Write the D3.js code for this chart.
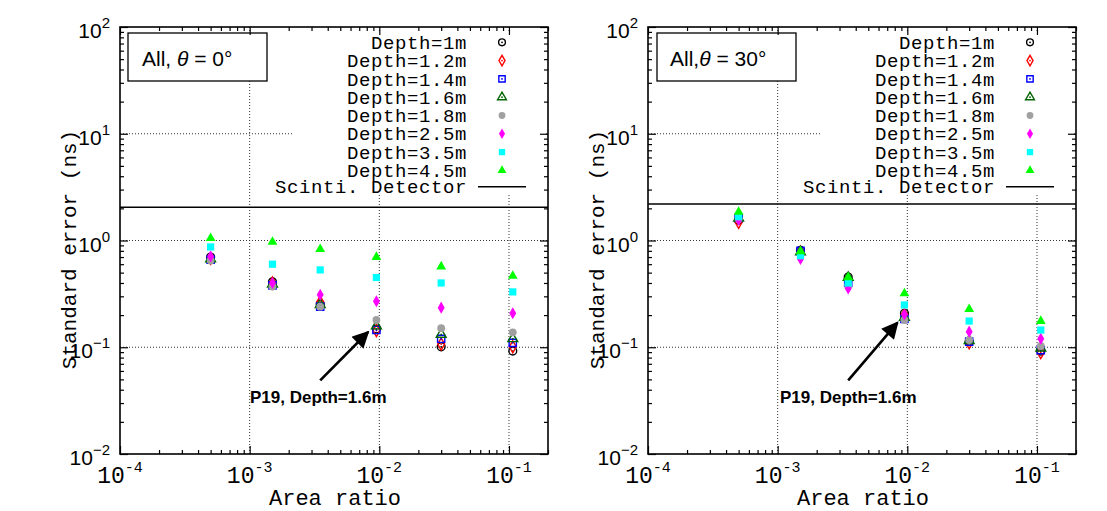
<!DOCTYPE html>
<html>
<head>
  <meta charset="UTF-8">
  <title></title>
  <style>
    body { margin: 0; background: #fff; }
    .mono { font-family: 'Liberation Mono', 'Courier New', monospace; }
    .sans { font-family: 'Liberation Sans', Helvetica, Arial, sans-serif; }
    .grid { stroke: #333; stroke-width: 1; stroke-dasharray: 1,2; }
  </style>
</head>
<body>
<div id="container"></div>
<script src="https://cdnjs.cloudflare.com/ajax/libs/d3/7.8.5/d3.min.js"></script>
<script>

// ---------------------------------------------------------------- data
var depths = ["1m", "1.2m", "1.4m", "1.6m", "1.8m", "2.5m", "3.5m", "4.5m"];
var areaRatio = [5e-4, 1.5e-3, 3.5e-3, 9.5e-3, 0.03, 0.107];

// standard error (ns), one row per depth, theta = 0
var errTheta0 = [
  [0.70, 0.41, 0.254, 0.148, 0.101, 0.092],
  [0.68, 0.40, 0.265, 0.143, 0.107, 0.101],
  [0.66, 0.38, 0.240, 0.145, 0.120, 0.110],
  [0.67, 0.39, 0.250, 0.158, 0.132, 0.120],
  [0.65, 0.37, 0.240, 0.180, 0.151, 0.138],
  [0.71, 0.40, 0.310, 0.270, 0.235, 0.208],
  [0.87, 0.60, 0.530, 0.450, 0.400, 0.330],
  [1.05, 0.97, 0.830, 0.700, 0.570, 0.465]
];
// theta = 30
var errTheta30 = [
  [1.55, 0.81, 0.455, 0.208, 0.113, 0.092],
  [1.48, 0.78, 0.420, 0.200, 0.110, 0.089],
  [1.63, 0.80, 0.400, 0.184, 0.113, 0.094],
  [1.62, 0.78, 0.450, 0.190, 0.115, 0.098],
  [1.60, 0.75, 0.380, 0.180, 0.117, 0.103],
  [1.56, 0.67, 0.356, 0.203, 0.140, 0.120],
  [1.67, 0.72, 0.400, 0.249, 0.176, 0.145],
  [1.85, 0.79, 0.450, 0.320, 0.227, 0.176]
];
var scintiLevel = [2.05, 2.2];
var xTicks = [-4, -3, -2, -1];
var yTicks = [-2, -1, 0, 1, 2];

// marker styles per depth
var markColor = ["#000000", "#ff0000", "#0000ff", "#006400", "#a0a0a0", "#ff00ff", "#00ffff", "#00ff00"];
var markShape = ["circle", "diamond", "square", "triangle", "circle", "diamond", "square", "triangle"];
var markOpen  = [true, true, true, true, false, false, false, false];

//////////////////////////////////////////////////////////////////////

var W = 1107, H = 511;
var pw = 428, ph = 427;

var svg = d3.select("#container").append("svg")
  .attr("width", W).attr("height", H);

var x = d3.scaleLog().domain([1e-4, 0.2]).range([0, pw]);
var y = d3.scaleLog().domain([1e-2, 1e2]).range([ph, 0]);

var symGen = {
  circle:   d3.symbol().type(d3.symbolCircle).size(48),
  diamond:  d3.symbol().type(d3.symbolDiamond).size(42),
  square:   d3.symbol().type(d3.symbolSquare).size(52),
  triangle: d3.symbol().type(d3.symbolTriangle).size(42)
};
var symGenSmall = {
  circle:   d3.symbol().type(d3.symbolCircle).size(36),
  diamond:  d3.symbol().type(d3.symbolDiamond).size(32),
  square:   d3.symbol().type(d3.symbolSquare).size(40),
  triangle: d3.symbol().type(d3.symbolTriangle).size(34)
};

function drawMark(g, i, cx, cy, gen) {
  var s = g.append("g").attr("transform", "translate(" + cx + "," + cy + ")");
  s.append("path")
    .attr("d", gen[markShape[i]]())
    .attr("fill", markOpen[i] ? "none" : markColor[i])
    .attr("stroke", markColor[i])
    .attr("stroke-width", markOpen[i] ? 1.4 : 0);
  if (markOpen[i]) {
    s.append("circle").attr("r", 0.9).attr("fill", markColor[i]);
  }
}

function panel(left, errs, scinti, titleParts, arrow, textX) {
  var g = svg.append("g").attr("transform", "translate(" + left + ",27)");

  // grid
  xTicks.slice(1).forEach(function(e) {
    g.append("line").attr("class", "grid")
      .attr("x1", x(Math.pow(10, e))).attr("x2", x(Math.pow(10, e)))
      .attr("y1", 0).attr("y2", ph);
  });
  yTicks.slice(1, -1).forEach(function(e) {
    g.append("line").attr("class", "grid")
      .attr("x1", 0).attr("x2", pw)
      .attr("y1", y(Math.pow(10, e))).attr("y2", y(Math.pow(10, e)));
  });

  // scintillator level
  g.append("line")
    .attr("x1", 0).attr("x2", pw)
    .attr("y1", y(scinti)).attr("y2", y(scinti))
    .attr("stroke", "#000").attr("stroke-width", 1.6);

  // points
  errs.forEach(function(row, i) {
    row.forEach(function(v, j) {
      drawMark(g, i, x(areaRatio[j]), y(v), symGen);
    });
  });

  // legend
  g.append("rect").attr("x", 173).attr("y", 6).attr("width", 252).attr("height", 162)
    .attr("fill", "#fff");
  depths.forEach(function(d, i) {
    var ly = 15.3 + 18.3 * i;
    g.append("text").attr("class", "mono")
      .attr("x", 347).attr("y", ly).attr("dy", "0.35em")
      .attr("text-anchor", "end").attr("font-size", 19).attr("letter-spacing", 0.6)
      .text("Depth=" + d);
    drawMark(g, i, 382, ly, symGenSmall);
  });
  g.append("text").attr("class", "mono")
    .attr("x", 347).attr("y", 159.7).attr("dy", "0.35em")
    .attr("text-anchor", "end").attr("font-size", 19).attr("letter-spacing", 0.6)
    .text("Scinti. Detector");
  g.append("line").attr("x1", 358).attr("x2", 406)
    .attr("y1", 159.7).attr("y2", 159.7)
    .attr("stroke", "#000").attr("stroke-width", 1.6);

  // title box
  g.append("rect").attr("x", titleParts.bx).attr("y", 6).attr("width", 139).attr("height", 48)
    .attr("fill", "#fff").attr("stroke", "#000").attr("stroke-width", 1.3);
  var tt = g.append("text").attr("class", "sans")
    .attr("x", titleParts.tx).attr("y", 39).attr("font-size", 21);
  tt.append("tspan").text(titleParts.a);
  tt.append("tspan").attr("font-style", "italic").text("\u03b8");
  tt.append("tspan").text(titleParts.b);

  // ticks on all four sides, inward
  var minorX = [], minorY = [];
  for (var e = -4; e < 0; e++) for (var k = 2; k < 10; k++) {
    var v = k * Math.pow(10, e);
    if (v <= 0.2) minorX.push(v);
  }
  for (var e2 = -2; e2 < 2; e2++) for (var k2 = 2; k2 < 10; k2++) minorY.push(k2 * Math.pow(10, e2));
  var xMaj = xTicks.map(function(e) { return Math.pow(10, e); });
  var yMaj = yTicks.map(function(e) { return Math.pow(10, e); });

  function axes(gen, vals, size, tr) {
    g.append("g").attr("transform", tr)
      .call(gen.tickValues(vals).tickSize(size).tickSizeOuter(0).tickFormat(""))
      .call(function(s) {
        s.select(".domain").remove();
        s.selectAll("line").attr("stroke", "#000").attr("stroke-width", 1.2);
      });
  }
  axes(d3.axisBottom(x), xMaj, -8, "translate(0," + ph + ")");
  axes(d3.axisBottom(x), minorX, -4, "translate(0," + ph + ")");
  axes(d3.axisTop(x), xMaj, -8, "translate(0,0)");
  axes(d3.axisTop(x), minorX, -4, "translate(0,0)");
  axes(d3.axisLeft(y), yMaj, -8, "translate(0,0)");
  axes(d3.axisLeft(y), minorY, -4, "translate(0,0)");
  axes(d3.axisRight(y), yMaj, -8, "translate(" + pw + ",0)");
  axes(d3.axisRight(y), minorY, -4, "translate(" + pw + ",0)");

  g.append("rect").attr("width", pw).attr("height", ph)
    .attr("fill", "none").attr("stroke", "#000").attr("stroke-width", 1.6);

  // tick labels
  xTicks.forEach(function(e) {
    var t = g.append("text").attr("class", "mono")
      .attr("x", x(Math.pow(10, e))).attr("y", ph + 29)
      .attr("text-anchor", "middle").attr("font-size", 23);
    t.append("tspan").text("10");
    t.append("tspan").attr("font-size", 15).attr("dy", -11).text(String(e));
  });
  yTicks.forEach(function(e) {
    var t = g.append("text").attr("class", "sans")
      .attr("x", -10).attr("y", y(Math.pow(10, e)) + 11)
      .attr("text-anchor", "end").attr("font-size", 21);
    t.append("tspan").text("10");
    t.append("tspan").attr("font-size", 15).attr("dy", -10).text(e < 0 ? "\u2212" + (-e) : String(e));
  });

  // axis titles
  g.append("text").attr("class", "mono")
    .attr("transform", "translate(-51," + (ph / 2 + 9) + ") rotate(-90)")
    .attr("dy", "0.35em")
    .attr("text-anchor", "middle").attr("font-size", 21)
    .text("Standard error (ns)");
  g.append("text").attr("class", "mono")
    .attr("x", pw / 2 + 1).attr("y", ph + 51)
    .attr("text-anchor", "middle").attr("font-size", 22)
    .text("Area ratio");

  // annotation
  g.append("line")
    .attr("x1", x(arrow[0])).attr("y1", y(arrow[1]))
    .attr("x2", x(arrow[2])).attr("y2", y(arrow[3]))
    .attr("stroke", "#000").attr("stroke-width", 2.6)
    .attr("marker-end", "url(#arrowhead)");
  g.append("text").attr("class", "sans")
    .attr("x", textX).attr("y", 376)
    .attr("font-size", 17).attr("font-weight", "bold")
    .text("P19, Depth=1.6m");
}

svg.append("defs").append("marker")
  .attr("id", "arrowhead")
  .attr("viewBox", "0 0 10 10")
  .attr("refX", 9).attr("refY", 5)
  .attr("markerWidth", 7.5).attr("markerHeight", 6.5)
  .attr("markerUnits", "strokeWidth")
  .attr("orient", "auto")
  .append("path").attr("d", "M0,0 L10,5 L0,10 Z").attr("fill", "#000");

panel(120, errTheta0, scintiLevel[0],
  { bx: 8, tx: 22, a: "All,  ", b: " = 0\u00b0" },
  [3.5e-3, 0.049, 8.2e-3, 0.139], 130);
panel(648, errTheta30, scintiLevel[1],
  { bx: 9, tx: 22, a: "All,", b: " = 30\u00b0" },
  [3.5e-3, 0.049, 8.4e-3, 0.17], 132);

</script>
</body>
</html>
